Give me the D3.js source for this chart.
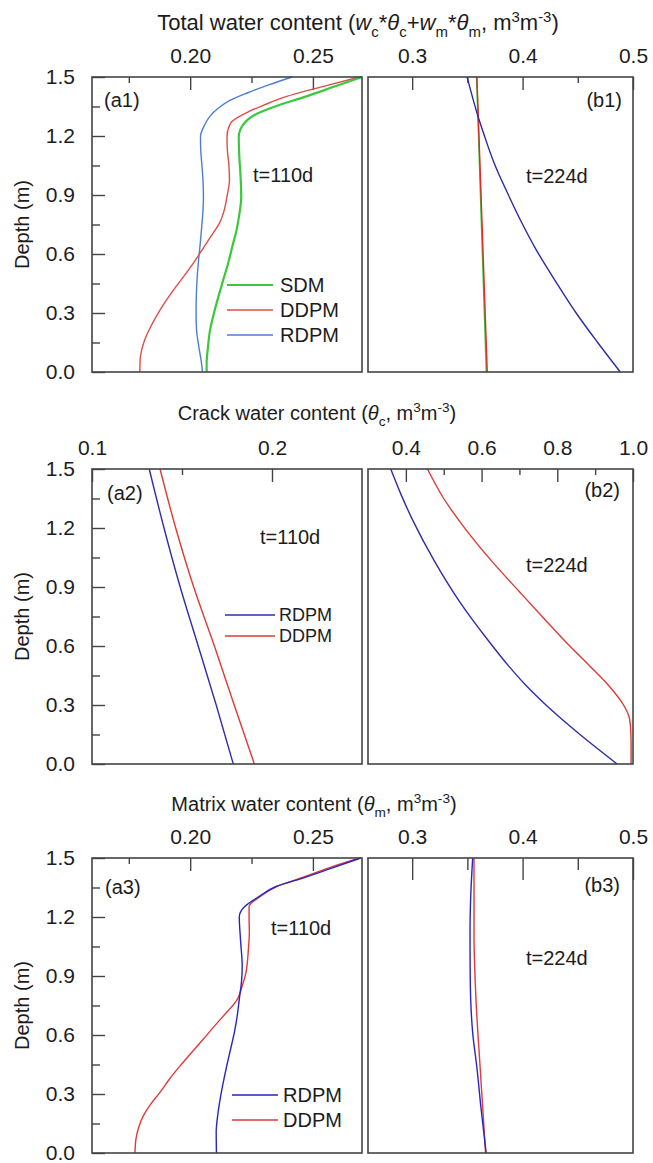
<!DOCTYPE html>
<html>
<head>
<meta charset="utf-8">
<script src="https://cdn.jsdelivr.net/npm/d3@7"></script>
<style>
  body { margin: 0; background: #fff; }
  svg text { font-family: "Liberation Sans", Arial, sans-serif; fill: #1c1c1c; }
</style>
</head>
<body>
<svg id="chart" width="653" height="1163"></svg>
<script>
// every series: [depth (m), water content]
const depthTicks = [0, 0.3, 0.6, 0.9, 1.2, 1.5];
const depthMinor = [0.15, 0.45, 0.75, 1.05, 1.35];

const a1Ticks = [0.20, 0.25], a1Minor = [0.175, 0.225];
const b1Ticks = [0.3, 0.4, 0.5], b1Minor = [0.35, 0.45];
const a2Ticks = [0.1, 0.2], a2Minor = [0.15];
const b2Ticks = [0.4, 0.6, 0.8, 1.0], b2Minor = [0.5, 0.7, 0.9];

// total water content, t=110d
const a1SDM = [[1.5,0.270],[1.45,0.2585],[1.40,0.2470],[1.35,0.2345],[1.307,0.2262],[1.256,0.2215],
  [1.196,0.2198],[1.10,0.2200],[1.0,0.2205],[0.891,0.2208],[0.80,0.2200],[0.722,0.2189],[0.64,0.2172],
  [0.554,0.2155],[0.47,0.2135],[0.383,0.2115],[0.30,0.2097],[0.214,0.2081],[0.12,0.2072],[0.046,0.2067],[0,0.2067]];
const a1DDPM = [[1.5,0.269],[1.45,0.2535],[1.40,0.2390],[1.357,0.2300],[1.325,0.2240],[1.266,0.2165],
  [1.198,0.2150],[1.12,0.2152],[1.063,0.2157],[0.978,0.2160],[0.893,0.2150],[0.82,0.2138],[0.758,0.2120],
  [0.70,0.2090],[0.656,0.2067],[0.554,0.2013],[0.48,0.1970],[0.419,0.1933],[0.35,0.1895],[0.283,0.1862],
  [0.22,0.1835],[0.164,0.1815],[0.11,0.1802],[0.063,0.1796],[0,0.1795]];
const a1RDPM = [[1.5,0.2415],[1.46,0.2320],[1.42,0.2235],[1.38,0.2160],[1.342,0.2115],[1.30,0.2080],
  [1.249,0.2056],[1.198,0.2042],[1.13,0.2043],[1.063,0.2047],[0.98,0.2052],[0.893,0.2054],[0.80,0.2051],
  [0.724,0.2046],[0.64,0.2040],[0.554,0.2033],[0.47,0.2028],[0.385,0.2025],[0.30,0.2024],[0.215,0.2026],
  [0.13,0.2035],[0.046,0.2046],[0,0.2050]];

// total water content, t=224d
const b1SDM = [[1.5,0.3584],[0.75,0.3628],[0,0.3672]];
const b1DDPM = [[1.5,0.3586],[0.75,0.3633],[0,0.3680]];
const b1RDPM = [[1.5,0.3497],[1.40,0.3545],[1.317,0.3587],[1.2,0.3655],[1.063,0.3742],[0.92,0.3855],
  [0.773,0.3980],[0.62,0.4125],[0.46,0.4300],[0.30,0.4485],[0.15,0.4680],[0,0.4885]];

// crack water content
const a2RDPM = [[1.5,0.1318],[1.2,0.1400],[0.9,0.1490],[0.6,0.1590],[0.3,0.1690],[0,0.1785]];
const a2DDPM = [[1.5,0.1378],[1.2,0.1465],[0.9,0.1565],[0.6,0.1680],[0.3,0.1790],[0,0.1902]];
const b2RDPM = [[1.5,0.360],[1.376,0.386],[1.24,0.418],[1.037,0.474],[0.817,0.545],[0.647,0.610],
  [0.495,0.673],[0.40,0.717],[0.3,0.770],[0.15,0.860],[0,0.958]];
const b2DDPM = [[1.5,0.457],[1.35,0.500],[1.206,0.553],[1.02,0.632],[0.876,0.700],[0.75,0.760],
  [0.6,0.833],[0.5,0.885],[0.4,0.935],[0.3,0.975],[0.25,0.988],[0.2,0.993],[0.1,0.995],[0,0.995]];

// matrix water content
const a3RDPM = [[1.5,0.2695],[1.45,0.2580],[1.40,0.2465],[1.355,0.2350],[1.304,0.2280],[1.253,0.2222],
  [1.2,0.2200],[1.085,0.2205],[0.949,0.2212],[0.87,0.2209],[0.781,0.2200],[0.70,0.2192],[0.613,0.2180],
  [0.53,0.2165],[0.443,0.2149],[0.36,0.2135],[0.274,0.2122],[0.19,0.2112],[0.106,0.2106],[0,0.2107]];
const a3DDPM = [[1.5,0.2690],[1.45,0.2565],[1.40,0.2455],[1.355,0.2352],[1.304,0.2285],[1.253,0.2240],
  [1.2,0.2240],[1.12,0.2241],[1.034,0.2237],[0.916,0.2227],[0.85,0.2212],[0.781,0.2192],[0.696,0.2135],
  [0.64,0.2095],[0.578,0.2053],[0.51,0.2005],[0.443,0.1959],[0.375,0.1915],[0.308,0.1877],[0.25,0.1840],
  [0.189,0.1809],[0.13,0.1790],[0.071,0.1779],[0,0.1775]];
const b3RDPM = [[1.5,0.3548],[1.3,0.3530],[1.12,0.3524],[0.95,0.3525],[0.78,0.3530],[0.6,0.3550],
  [0.44,0.3585],[0.22,0.3625],[0,0.3670]];
const b3DDPM = [[1.5,0.3560],[1.12,0.3560],[0.78,0.3578],[0.44,0.3615],[0.22,0.3640],[0,0.3665]];

const svg = d3.select('#chart');
const ink = '#444';

// text with italic / sub / superscript pieces
function richText(x, y, parts, size, anchor) {
  const t = svg.append('text').attr('x', x).attr('y', y)
    .attr('text-anchor', anchor || 'start').style('font-size', size + 'px');
  let shift = 0;
  parts.forEach(([s, k]) => {
    const target = k === 'sub' ? size * 0.3 : k === 'sup' ? -size * 0.38 : 0;
    const ts = t.append('tspan').attr('dy', target - shift).text(s);
    shift = target;
    if (k === 'sub' || k === 'sup') ts.style('font-size', (size * 0.68) + 'px');
    if (k === 'i') ts.style('font-style', 'italic');
  });
  return t;
}

function drawPanel(p) {
  const x = d3.scaleLinear().domain(p.xDomain).range([p.left, p.right]);
  const y = d3.scaleLinear().domain([0, 1.5]).range([p.bottom, p.top]);
  const g = svg.append('g');

  const styleAxis = sel => {
    sel.select('.domain').remove();
    sel.selectAll('line').attr('stroke', ink).attr('stroke-width', 1.4);
    sel.selectAll('text').attr('font-size', 21).attr('font-family', null).attr('fill', '#1c1c1c');
  };

  g.append('g').attr('transform', `translate(0,${p.top})`)
    .call(d3.axisTop(x).tickValues(p.ticks).tickSize(-(p.majorLen || 13)).tickPadding(14)
      .tickFormat(d3.format(p.fmt)))
    .call(styleAxis);
  g.append('g').attr('transform', `translate(0,${p.top})`)
    .call(d3.axisTop(x).tickValues(p.minor).tickSize(-(p.minorLen || 6)).tickFormat(''))
    .call(styleAxis);

  if (p.depthAxis) {
    g.append('g').attr('transform', `translate(${p.left},0)`)
      .call(d3.axisLeft(y).tickValues(depthTicks).tickSize(-13).tickPadding(17)
        .tickFormat(d3.format('.1f')))
      .call(styleAxis);
    g.append('g').attr('transform', `translate(${p.left},0)`)
      .call(d3.axisLeft(y).tickValues(depthMinor).tickSize(-8).tickFormat(''))
      .call(styleAxis);
    g.append('text')
      .attr('transform', `translate(22,${(p.top + p.bottom) / 2}) rotate(-90)`)
      .attr('text-anchor', 'middle').attr('dominant-baseline', 'central')
      .style('font-size', '20px').text('Depth (m)');
  }

  const line = d3.line().x(d => x(d[1])).y(d => y(d[0])).curve(d3.curveMonotoneY);
  p.series.forEach(s => {
    g.append('path').datum(s.data).attr('d', line)
      .attr('fill', 'none').attr('stroke', s.color).attr('stroke-width', s.width || 1.4);
  });

  g.append('rect').attr('x', p.left).attr('y', p.top)
    .attr('width', p.right - p.left).attr('height', p.bottom - p.top)
    .attr('fill', 'none').attr('stroke', ink).attr('stroke-width', 1.6);

  g.append('text').attr('x', p.label.x).attr('y', p.label.y)
    .attr('text-anchor', p.label.anchor || 'start').attr('dominant-baseline', 'central')
    .style('font-size', '20px').text(p.label.text);
  g.append('text').attr('x', p.time.x).attr('y', p.time.y).attr('dominant-baseline', 'central')
    .style('font-size', '20px').text(p.time.text);

  if (p.legend) {
    p.legend.items.forEach((s, i) => {
      const ly = p.legend.ys[i];
      g.append('line').attr('x1', p.legend.x1).attr('x2', p.legend.x2).attr('y1', ly).attr('y2', ly)
        .attr('stroke', s.color).attr('stroke-width', s.width || 1.4);
      g.append('text').attr('x', p.legend.tx).attr('y', ly).attr('dominant-baseline', 'central')
        .style('font-size', (p.legend.size || 20) + 'px').text(s.name);
    });
  }
}

const A = {left: 92, right: 362}, B = {left: 368, right: 633};
const rows = [{top: 77, bottom: 372}, {top: 469, bottom: 764}, {top: 858, bottom: 1153}];

const green = '#3cc83c';
const s1 = {name: 'SDM', data: a1SDM, color: green, width: 2.2};
const s2 = {name: 'DDPM', data: a1DDPM, color: '#dc4f48'};
const s3 = {name: 'RDPM', data: a1RDPM, color: '#4d7ed4'};

drawPanel({...A, ...rows[0], xDomain: [0.16, 0.27], ticks: a1Ticks, minor: a1Minor, fmt: '.2f',
  depthAxis: true, series: [s3, s2, s1],
  label: {text: '(a1)', x: 104, y: 100}, time: {text: 't=110d', x: 253, y: 175},
  legend: {x1: 227, x2: 273, tx: 280, ys: [285, 310, 335], items: [s1, s2, s3]}});

drawPanel({...B, ...rows[0], xDomain: [0.26, 0.5], ticks: b1Ticks, minor: b1Minor, fmt: '.1f',
  series: [{data: b1SDM, color: green, width: 1.6}, {data: b1DDPM, color: '#e02a22'},
    {data: b1RDPM, color: '#2b2ba6'}],
  label: {text: '(b1)', x: 622, y: 100, anchor: 'end'}, time: {text: 't=224d', x: 526, y: 176}});

const r2 = {name: 'RDPM', data: a2RDPM, color: '#2e2eaa'};
const d2 = {name: 'DDPM', data: a2DDPM, color: '#dc3b35'};
drawPanel({...A, ...rows[1], xDomain: [0.1, 0.25], ticks: a2Ticks, minor: a2Minor, fmt: '.1f',
  depthAxis: true, series: [r2, d2],
  label: {text: '(a2)', x: 107, y: 493}, time: {text: 't=110d', x: 260, y: 537},
  legend: {x1: 225, x2: 275, tx: 279, ys: [615, 636], size: 18, items: [r2, d2]}});

drawPanel({...B, ...rows[1], xDomain: [0.3, 1.0], ticks: b2Ticks, minor: b2Minor, fmt: '.1f',
  series: [{data: b2RDPM, color: '#2e2eaa'}, {data: b2DDPM, color: '#dc3b35'}],
  label: {text: '(b2)', x: 620, y: 490, anchor: 'end'}, time: {text: 't=224d', x: 526, y: 565}});

const r3 = {name: 'RDPM', data: a3RDPM, color: '#2626c2'};
const d3s = {name: 'DDPM', data: a3DDPM, color: '#e03a3a'};
drawPanel({...A, ...rows[2], xDomain: [0.16, 0.27], ticks: a1Ticks, minor: a1Minor, fmt: '.2f',
  depthAxis: true, series: [d3s, r3],
  label: {text: '(a3)', x: 105, y: 887}, time: {text: 't=110d', x: 271, y: 928},
  legend: {x1: 232, x2: 278, tx: 283, ys: [1095, 1120], items: [r3, d3s]}});

drawPanel({...B, ...rows[2], xDomain: [0.26, 0.5], ticks: b1Ticks, minor: b1Minor, fmt: '.1f',
  majorLen: 22, minorLen: 12,
  series: [{data: b3DDPM, color: '#e03a3a'}, {data: b3RDPM, color: '#2626c2'}],
  label: {text: '(b3)', x: 620, y: 885, anchor: 'end'}, time: {text: 't=224d', x: 526, y: 958}});

// row titles
richText(358, 30, [['Total water content ('], ['w', 'i'], ['c', 'sub'], ['*'], ['θ', 'i'], ['c', 'sub'],
  ['+'], ['w', 'i'], ['m', 'sub'], ['*'], ['θ', 'i'], ['m', 'sub'], [', m'], ['3', 'sup'], ['m'],
  ['-3', 'sup'], [')']], 22, 'middle');
richText(317, 420, [['Crack water content ('], ['θ', 'i'], ['c', 'sub'], [', m'], ['3', 'sup'], ['m'],
  ['-3', 'sup'], [')']], 20, 'middle');
richText(314, 811, [['Matrix water content ('], ['θ', 'i'], ['m', 'sub'], [', m'], ['3', 'sup'], ['m'],
  ['-3', 'sup'], [')']], 20, 'middle');
</script>
</body>
</html>
